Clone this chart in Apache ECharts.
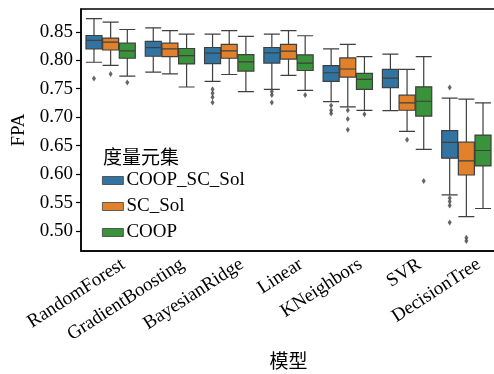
<!DOCTYPE html>
<html>
<head>
<meta charset="utf-8">
<script src="https://cdn.jsdelivr.net/npm/echarts@6/dist/echarts.min.js"></script>
<style>
  html, body { margin: 0; padding: 0; background: #fff; }
  #main { width: 494px; height: 374px; }
</style>
</head>
<body>
<div id="main"></div>
<script>
const chart = echarts.init(document.querySelector('#main'))

const CATEGORIES = ['RandomForest', 'GradientBoosting', 'BayesianRidge', 'Linear', 'KNeighbors', 'SVR', 'DecisionTree']
const SERIES_NAMES = ['COOP_SC_Sol', 'SC_Sol', 'COOP']
const COLORS = ['#3274a1', '#e1812c', '#3a923a']
const Y_TICKS = [0.50, 0.55, 0.60, 0.65, 0.70, 0.75, 0.80, 0.85]

// [lower whisker, Q1, median, Q3, upper whisker]
const BOX_COOP_SC_SOL = [
  [0.7965, 0.820, 0.835, 0.8435, 0.873],
  [0.779, 0.807, 0.822, 0.833, 0.857],
  [0.763, 0.794, 0.8124, 0.8224, 0.846],
  [0.749, 0.795, 0.813, 0.8224, 0.846],
  [0.7275, 0.763, 0.778, 0.7905, 0.820],
  [0.7116, 0.752, 0.7687, 0.784, 0.8106],
  [0.5637, 0.628, 0.6556, 0.6763, 0.7334]
]
const BOX_SC_SOL = [
  [0.791, 0.818, 0.832, 0.839, 0.867],
  [0.776, 0.8065, 0.820, 0.830, 0.852],
  [0.775, 0.8035, 0.8165, 0.828, 0.852],
  [0.7735, 0.802, 0.816, 0.828, 0.852],
  [0.718, 0.7705, 0.7846, 0.804, 0.828],
  [0.675, 0.7122, 0.725, 0.7387, 0.784],
  [0.5254, 0.5985, 0.6233, 0.6562, 0.7316]
]
const BOX_COOP = [
  [0.772, 0.8035, 0.8165, 0.830, 0.854],
  [0.753, 0.7935, 0.808, 0.8206, 0.846],
  [0.745, 0.781, 0.797, 0.810, 0.842],
  [0.747, 0.782, 0.795, 0.8095, 0.843],
  [0.712, 0.7487, 0.7664, 0.777, 0.8064],
  [0.6433, 0.702, 0.728, 0.7534, 0.8064],
  [0.5396, 0.6144, 0.6415, 0.6685, 0.725]
]

const OUT_COOP_SC_SOL = [
  ['RandomForest', 0.768],
  ['BayesianRidge', 0.749], ['BayesianRidge', 0.742], ['BayesianRidge', 0.735], ['BayesianRidge', 0.726],
  ['Linear', 0.745], ['Linear', 0.739], ['Linear', 0.726],
  ['KNeighbors', 0.7205], ['KNeighbors', 0.712], ['KNeighbors', 0.7063],
  ['DecisionTree', 0.752], ['DecisionTree', 0.558], ['DecisionTree', 0.552], ['DecisionTree', 0.545], ['DecisionTree', 0.515]
]
const OUT_SC_SOL = [
  ['RandomForest', 0.776],
  ['KNeighbors', 0.712], ['KNeighbors', 0.697], ['KNeighbors', 0.678],
  ['SVR', 0.6604],
  ['DecisionTree', 0.4883], ['DecisionTree', 0.4825]
]
const OUT_COOP = [
  ['RandomForest', 0.761],
  ['Linear', 0.739],
  ['KNeighbors', 0.705],
  ['SVR', 0.588]
]

const BOXES = [BOX_COOP_SC_SOL, BOX_SC_SOL, BOX_COOP]
const OUTLIERS = [OUT_COOP_SC_SOL, OUT_SC_SOL, OUT_COOP]

const SERIF = '"Liberation Serif", "Times New Roman", serif'
const CJK = '"Noto Sans CJK SC", sans-serif'
const EDGE = '#3f3f3f'
const FONT_SIZE = 19

// boxplot layout offsets (px) for 3 series in a ~59px band, same as echarts does it
const BAND = 415 / CATEGORIES.length
const AVAIL = BAND * 0.8 - 2
const GAP = AVAIL / 3 * 0.3
const BW = (AVAIL - GAP * 2) / 3
const OFFSETS = [-(BW + GAP), 0, BW + GAP]

const boxSeries = SERIES_NAMES.map((name, i) => ({
  name,
  type: 'boxplot',
  data: BOXES[i],
  boxWidth: [16, 16],
  itemStyle: {
    color: COLORS[i],
    borderColor: EDGE,
    borderWidth: 1.2
  },
  emphasis: { disabled: true }
}))

const outlierSeries = SERIES_NAMES.map((name, i) => ({
  name: name + '_out',
  type: 'scatter',
  data: OUTLIERS[i],
  symbol: 'diamond',
  symbolSize: [4, 6],
  symbolOffset: [OFFSETS[i], 0],
  itemStyle: { color: EDGE },
  silent: true
}))

chart.setOption({
  animation: false,
  title: {
    text: '度量元集',
    left: 98,
    top: 142,
    textStyle: { fontFamily: CJK, fontSize: FONT_SIZE, fontWeight: 'normal', color: '#000' }
  },
  legend: {
    data: SERIES_NAMES.map((n, i) => ({ name: n, itemStyle: { color: COLORS[i], borderColor: EDGE, borderWidth: 0.8 } })),
    orient: 'vertical',
    left: 97,
    top: 166,
    itemWidth: 21,
    itemHeight: 8,
    itemGap: 7,
    icon: 'rect',
    textStyle: { fontFamily: SERIF, fontSize: FONT_SIZE, color: '#000', padding: [0, 0, 0, -2] }
  },
  grid: {
    left: 81,
    top: 9,
    width: 415,
    height: 242,
    outerBoundsMode: 'none',
    containLabel: false,
    show: true,
    borderColor: '#000',
    borderWidth: 1.5,
    backgroundColor: 'transparent'
  },
  xAxis: {
    type: 'category',
    data: CATEGORIES,
    name: '模型',
    nameLocation: 'middle',
    nameGap: 100,
    nameTextStyle: { fontFamily: CJK, fontSize: FONT_SIZE, color: '#000' },
    axisLine: { lineStyle: { color: '#000', width: 1.5 } },
    axisTick: { alignWithLabel: true, length: 5, lineStyle: { color: '#000', width: 1.2 } },
    axisLabel: {
      rotate: 33,
      interval: 0,
      margin: 20,
      padding: [0, -15, 0, 0],
      fontFamily: SERIF,
      fontSize: FONT_SIZE,
      color: '#000'
    },
    splitLine: { show: false }
  },
  yAxis: {
    type: 'value',
    min: 0.465,
    max: 0.89,
    name: 'FPA',
    nameLocation: 'middle',
    nameGap: 47,
    nameTextStyle: { fontFamily: SERIF, fontSize: FONT_SIZE, color: '#000' },
    axisLine: { show: true, lineStyle: { color: '#000', width: 1.5 } },
    axisTick: { show: true, length: 5, customValues: Y_TICKS, lineStyle: { color: '#000', width: 1.2 } },
    axisLabel: {
      customValues: Y_TICKS,
      formatter: v => v.toFixed(2),
      margin: 8,
      fontFamily: SERIF,
      fontSize: FONT_SIZE,
      color: '#000'
    },
    splitLine: { show: false }
  },
  series: boxSeries.concat(outlierSeries)
})
</script>
</body>
</html>
